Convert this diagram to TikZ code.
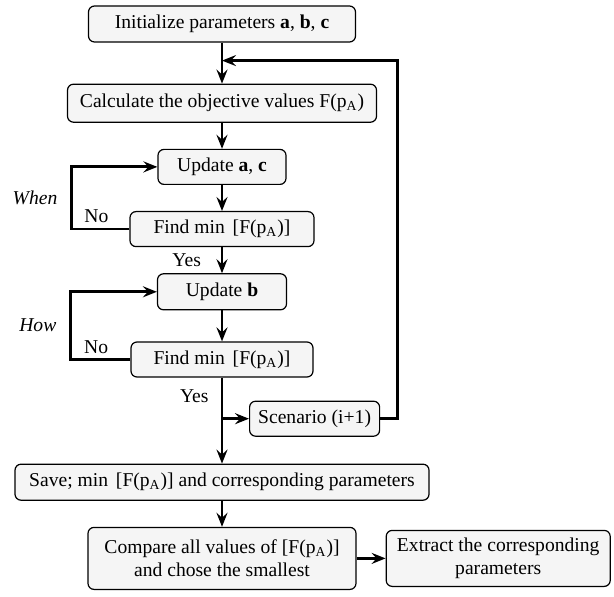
\documentclass[tikz,border=0pt]{standalone}
\usepackage{fontspec}
\setmainfont{Liberation Serif}
\usepackage{tikz}
\usetikzlibrary{arrows.meta,positioning}

\tikzset{
    block/.style={draw,rounded corners=3pt,fill=gray!8,line width=0.6pt,
        minimum height=17.5pt,inner xsep=2pt,inner ysep=1pt,font=\fontsize{9.8pt}{11.5pt}\selectfont},
    flow/.style={line width=1.4pt,-{Stealth[length=7pt,width=5.5pt,inset=2.5pt]}},
    lbl/.style={font=\fontsize{9.8pt}{11.5pt}\selectfont}
}
\newcommand{\minF}{min\hspace{0.4em}[F(p\textsubscript{A})]}

\begin{document}
\begin{tikzpicture}[node distance=13pt]
    \useasboundingbox (0,0) rectangle (307pt,-298.5pt);
    % Main column
    \node[block,minimum width=133.5pt,minimum height=18pt] (init) at (111pt,-12pt) {Initialize parameters \textbf{a}, \textbf{b}, \textbf{c}};
    \node[block,minimum width=154.5pt,minimum height=19pt,below=20.5pt of init] (calc) {Calculate the objective values F(p\textsubscript{A})};
    \node[block,minimum width=64pt,below=13pt of calc] (upac) {Update \textbf{a}, \textbf{c}};
    \node[block,minimum width=92pt,below=of upac] (find1) {Find \minF};
    \node[block,minimum width=64.5pt,minimum height=18pt,below=of find1] (upb) {Update \textbf{b}};
    \node[block,minimum width=91pt,below=15.5pt of upb] (find2) {Find \minF};
    \node[block,minimum width=65pt,anchor=north west,below right=11.5pt and 13.5pt of find2.south] (scen) {Scenario (i+1)};
    \node[block,minimum width=207pt,minimum height=18pt,below=43pt of find2] (save) {Save; \minF{} and corresponding parameters};
    \node[block,minimum width=134pt,minimum height=31pt,align=center,below=of save] (comp) {Compare all values of [F(p\textsubscript{A})]\\and chose the smallest};
    \node[block,minimum width=112pt,minimum height=28pt,align=center,right=14.5pt of comp] (extr) {Extract the corresponding\\parameters};
    \coordinate[below=9pt of init.south] (ret);

    % Arrows
    \draw[flow] (init) -- (calc);
    \draw[flow] (calc) -- (upac);
    \draw[flow] (upac) -- (find1);
    \draw[flow] (find1) -- node[lbl,left=6.5pt] {Yes} (upb);
    \draw[flow] (upb) -- (find2);
    \draw[flow] (find2.south) -- node[lbl,left=2.7pt,pos=0.22] {Yes} (save.north);
    \draw[flow] (find2.south |- scen.west) -- (scen.west);
    \draw[flow] (save) -- (comp);
    \draw[flow] (comp) -- (extr);

    % Loops
    \draw[flow] (find1.west) -- node[lbl,above=-1pt,pos=0.57] {No} ++(-29pt,0)
        |- node[lbl,left=3pt,pos=0.25] {\textit{When}} (upac.west);
    \draw[flow] (find2.west) -- node[lbl,above=-1pt,pos=0.57] {No} ++(-30pt,0)
        |- node[lbl,left=3pt,pos=0.25] {\textit{How}} (upb.west);
    \draw[flow] (scen.east) -- ++(8.5pt,0) |- (ret);
\end{tikzpicture}
\end{document}
